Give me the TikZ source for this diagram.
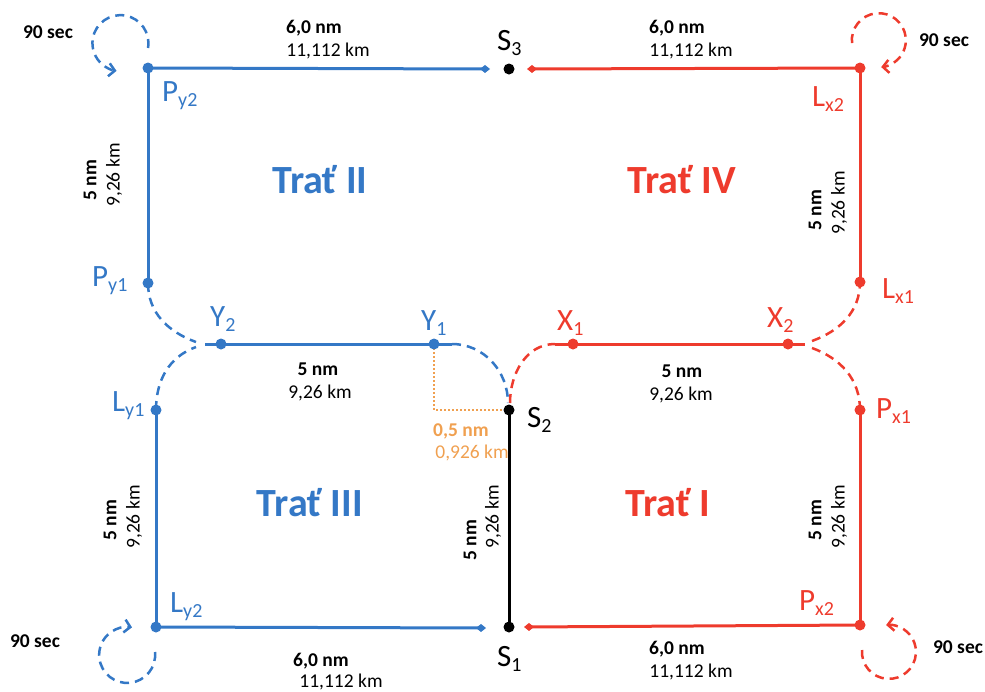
\documentclass[tikz,border=0pt]{standalone}
\usepackage{fontspec}
\setmainfont{Carlito}
\usetikzlibrary{arrows.meta}
\definecolor{tblue}{HTML}{3478C6}
\definecolor{tred}{HTML}{EE3B2D}
\definecolor{torange}{HTML}{F0A050}

% waypoint name with a lowered, smaller index
\newcommand\wpname[2]{#1\raisebox{-5pt}{\fontsize{20}{20}\selectfont #2}}

\begin{document}
\begin{tikzpicture}[x=1pt,y=1pt,
  route/.style={line width=3pt},
  linkb/.style={line width=2.5pt, dash pattern=on 9pt off 6pt},
  dotnode/.style={circle, fill=#1, inner sep=0pt, minimum size=11pt},
  endtip/.style={-{Diamond[length=10pt,width=8pt]}},
  looptip/.style={-{Straight Barb[length=6pt,width=13pt]}},
  wplabel/.style={text=#1, font=\fontsize{31}{31}\selectfont, anchor=base west, inner sep=0pt},
  lblr/.style={font=\fontsize{19.5}{19.5}\selectfont, inner sep=0pt},
  lblb/.style={font=\bfseries\fontsize{19.5}{19.5}\selectfont, inner sep=0pt},
  lblo/.style={font=\fontsize{19.5}{19.5}\selectfont, inner sep=0pt, text=torange},
  lblob/.style={font=\bfseries\fontsize{19.5}{19.5}\selectfont, inner sep=0pt, text=torange},
  trattitle/.style={font=\bfseries\fontsize{40}{40}\selectfont, text=#1, inner sep=0pt}
]
\useasboundingbox (0,0) rectangle (985,-691);

% ---- waypoints ----
\coordinate (Py2) at (148,-68);
\coordinate (Py1) at (148,-283);
\coordinate (Y2)  at (221,-344);
\coordinate (Y1)  at (434,-344);
\coordinate (Ly1) at (156,-410);
\coordinate (Ly2) at (156,-627);
\coordinate (S3)  at (509,-69);
\coordinate (S2)  at (509,-410);
\coordinate (S1)  at (509,-627);
\coordinate (X1)  at (573,-344);
\coordinate (X2)  at (788,-344);
\coordinate (Lx2) at (860,-68);
\coordinate (Lx1) at (860,-282);
\coordinate (Px1) at (860,-410);
\coordinate (Px2) at (860,-625);

% free ends of the segments
\coordinate (TopB)  at (490,-69);
\coordinate (TopR)  at (527,-69);
\coordinate (BotB)  at (486,-628);
\coordinate (BotR)  at (524,-627);
\coordinate (MidBs) at (205,-344);
\coordinate (MidBe) at (452,-344);
\coordinate (MidRs) at (555,-344);
\coordinate (MidRe) at (805,-344);
\coordinate (JLa)   at (196,-342);
\coordinate (JLb)   at (196,-347);
\coordinate (JRa)   at (812,-341);
\coordinate (JRb)   at (812,-348);
\coordinate (S2b)   at (508,-403);
\coordinate (S2r)   at (510,-403);

% ---- holding loops ----
\coordinate (HoldA) at (148,-48);
\coordinate (HoldB) at (852,-43);
\coordinate (HoldC) at (155,-652);
\coordinate (HoldD) at (862,-650);
\draw[tblue, linkb, looptip] (HoldA) arc[start angle=-10, end angle=262, radius=28];
\draw[tred,  linkb, looptip] (HoldB) arc[start angle=186, end angle=-85, radius=27];
\draw[tblue, linkb, looptip] (HoldC) arc[start angle=6, end angle=-280, radius=28];
\draw[tred,  linkb, looptip] (HoldD) arc[start angle=176, end angle=456, radius=27];

% ---- orange offset marker ----
\draw[torange, line width=2pt, dash pattern=on 2pt off 2pt] (Y1) |- (S2);

% ---- route segments ----
\draw[route, tblue, endtip] (Py2) -- (TopB);
\draw[route, tred,  endtip] (Lx2) -- (TopR);
\draw[route, tblue, endtip] (Ly2) -- (BotB);
\draw[route, tred,  endtip] (Px2) -- (BotR);
\draw[route, tblue] (Py2) -- (Py1);
\draw[route, tblue] (Ly1) -- (Ly2);
\draw[route, tred]  (Lx2) -- (Lx1);
\draw[route, tred]  (Px1) -- (Px2);
\draw[route, black] (S2) -- (S1);
\draw[route, tblue] (MidBs) -- (MidBe);
\draw[route, tred]  (MidRs) -- (MidRe);

% ---- dashed transitions ----
\draw[tblue, linkb] (Py1) to[out=-90, in=160] (JLa);
\draw[tblue, linkb] (Ly1) to[out=90, in=200] (JLb);
\draw[tblue, linkb] (MidBe) to[out=0, in=90] (S2b);
\draw[tred,  linkb] (S2r) to[out=90, in=180] (MidRs);
\draw[tred,  linkb] (JRa) to[out=20, in=-90] (Lx1);
\draw[tred,  linkb] (JRb) to[out=-20, in=90] (Px1);

% ---- dots ----
\foreach \p in {Py2,Py1,Y2,Y1,Ly1,Ly2} \node[dotnode=tblue] at (\p) {};
\foreach \p in {X1,X2,Lx2,Lx1,Px1,Px2} \node[dotnode=tred] at (\p) {};
\foreach \p in {S1,S2,S3} \node[dotnode=black] at (\p) {};

% ---- waypoint names ----
\node[wplabel=tblue] (nPy2) at (162,-101) {\wpname{P}{y2}};
\node[wplabel=tblue] (nPy1) at (92,-286)  {\wpname{P}{y1}};
\node[wplabel=tblue] (nY2)  at (210,-326) {\wpname{Y}{2}};
\node[wplabel=tblue] (nY1)  at (421,-330) {\wpname{Y}{1}};
\node[wplabel=tblue] (nLy1) at (112,-411) {\wpname{L}{y1}};
\node[wplabel=tblue] (nLy2) at (170,-612) {\wpname{L}{y2}};
\node[wplabel=black] (nS3)  at (497,-50)  {\wpname{S}{3}};
\node[wplabel=black] (nS2)  at (527,-427) {\wpname{S}{2}};
\node[wplabel=black] (nS1)  at (497,-666) {\wpname{S}{1}};
\node[wplabel=tred]  (nX1)  at (557,-330) {\wpname{X}{1}};
\node[wplabel=tred]  (nX2)  at (767,-327) {\wpname{X}{2}};
\node[wplabel=tred]  (nLx2) at (812,-106) {\wpname{L}{x2}};
\node[wplabel=tred]  (nLx1) at (882,-298) {\wpname{L}{x1}};
\node[wplabel=tred]  (nPx1) at (876,-418) {\wpname{P}{x1}};
\node[wplabel=tred]  (nPx2) at (799,-610) {\wpname{P}{x2}};

% ---- route titles ----
\node[trattitle=tblue] (tII)  at (320,-180) {Trať II};
\node[trattitle=tred]  (tIV)  at (682,-180) {Trať IV};
\node[trattitle=tblue] (tIII) at (310,-503) {Trať III};
\node[trattitle=tred]  (tI)   at (668,-503) {Trať I};

% ---- holding times ----
\node[lblb] (h1) at (48,-32)  {90 sec};
\node[lblb] (h2) at (944,-40) {90 sec};
\node[lblb] (h3) at (35,-641) {90 sec};
\node[lblb] (h4) at (958,-647) {90 sec};

% ---- distances ----
\node[lblb] at (314,-28)  {6,0 nm};
\node[lblr] at (328,-51)  {11,112 km};
\node[lblb] at (677,-28)  {6,0 nm};
\node[lblr] at (691,-51)  {11,112 km};
\node[lblb] at (321,-661) {6,0 nm};
\node[lblr] at (341,-682) {11,112 km};
\node[lblb] at (677,-649) {6,0 nm};
\node[lblr] at (691,-672) {11,112 km};
\node[lblb] at (318,-369) {5 nm};
\node[lblr] at (320,-393) {9,26 km};
\node[lblb] at (682,-371) {5 nm};
\node[lblr] at (681,-395) {9,26 km};
\node[lblob] at (461,-431) {0,5 nm};
\node[lblo]  at (472,-453) {0,926 km};

\node[lblb, rotate=90] at (90,-180)  {5 nm};
\node[lblr, rotate=90] at (114,-175) {9,26 km};
\node[lblb, rotate=90] at (110,-520) {5 nm};
\node[lblr, rotate=90] at (134,-517) {9,26 km};
\node[lblb, rotate=90] at (470,-540) {5 nm};
\node[lblr, rotate=90] at (493,-517) {9,26 km};
\node[lblb, rotate=90] at (815,-210) {5 nm};
\node[lblr, rotate=90] at (839,-203) {9,26 km};
\node[lblb, rotate=90] at (815,-520) {5 nm};
\node[lblr, rotate=90] at (839,-517) {9,26 km};
\end{tikzpicture}
\end{document}
